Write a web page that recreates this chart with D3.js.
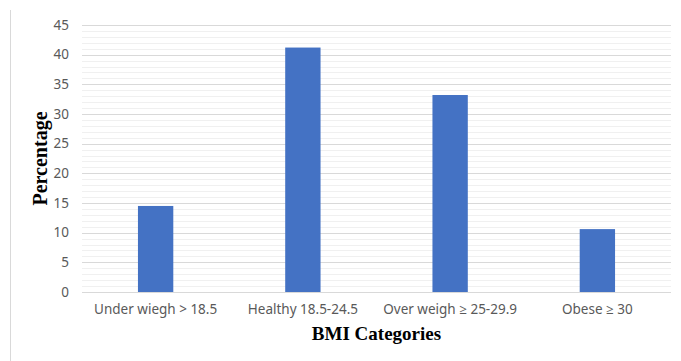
<!DOCTYPE html>
<html>
<head>
<meta charset="utf-8">
<script src="https://cdn.jsdelivr.net/npm/d3@7"></script>
<style>
  body { margin: 0; background: #fff; }
</style>
</head>
<body>
<svg id="canvas" width="681" height="361"></svg>
<script>
// Data
let categories = ['Under wiegh > 18.5', 'Healthy 18.5-24.5', 'Over weigh \u2265 25-29.9', 'Obese \u2265 30'];
let percentages = [14.5, 41.2, 33.2, 10.6];
let yTicks = [0, 5, 10, 15, 20, 25, 30, 35, 40, 45];

let canvas = d3.select('#canvas');

let margin = { left: 82, right: 10, top: 25, bottom: 69 };
let width = 681 - margin.left - margin.right;
let height = 361 - margin.top - margin.bottom;

let x = d3.scaleBand().domain(categories).range([0, width]).paddingInner(0.76).paddingOuter(0.38);
let y = d3.scaleLinear().domain([0, 45]).range([height, 0]);

// Chart frame edge on the left
canvas.append('line')
    .attr('x1', 10.5).attr('x2', 10.5)
    .attr('y1', 10).attr('y2', 361)
    .attr('stroke', '#d9d9d9').attr('stroke-width', 1);

let g = canvas.append('g').attr('transform', `translate(${margin.left},${margin.top})`);

// Minor gridlines
g.selectAll('.minor')
    .data(d3.range(0, 46).filter((v) => v % 5 !== 0))
    .enter()
    .append('line')
    .attr('x1', 0).attr('x2', width)
    .attr('y1', (d) => Math.round(y(d)) + 0.5)
    .attr('y2', (d) => Math.round(y(d)) + 0.5)
    .attr('stroke', '#f0f0f0');

// Major gridlines
g.selectAll('.major')
    .data(yTicks)
    .enter()
    .append('line')
    .attr('x1', 0).attr('x2', width)
    .attr('y1', (d) => Math.round(y(d)) + 0.5)
    .attr('y2', (d) => Math.round(y(d)) + 0.5)
    .attr('stroke', '#d9d9d9');

// Y tick labels
let yAxis = g.append('g')
    .call(d3.axisLeft(y).tickValues(yTicks).tickSize(0).tickPadding(13));
yAxis.select('.domain').remove();
yAxis.selectAll('text')
    .attr('fill', '#595959')
    .style('font-family', 'Noto Sans, Open Sans, sans-serif')
    .style('font-size', '13.5px');

// Bars
g.selectAll('rect')
    .data(percentages)
    .enter()
    .append('rect')
    .attr('x', (d, i) => x(categories[i]))
    .attr('y', (d) => y(d))
    .attr('width', x.bandwidth())
    .attr('height', (d) => y(0) - y(d))
    .attr('fill', '#4472c4');

// X tick labels
let xAxis = g.append('g')
    .attr('transform', `translate(0,${height})`)
    .call(d3.axisBottom(x).tickSize(0).tickPadding(12));
xAxis.select('.domain').remove();
xAxis.selectAll('text')
    .attr('fill', '#595959')
    .style('font-family', 'Noto Sans, Open Sans, sans-serif')
    .style('font-size', '13.5px');

// Axis titles
canvas.append('text')
    .attr('x', margin.left + width / 2)
    .attr('y', 340)
    .attr('text-anchor', 'middle')
    .style('font-family', 'Liberation Serif, Times New Roman, serif')
    .style('font-weight', 'bold')
    .style('font-size', '19px')
    .text('BMI Categories');

canvas.append('text')
    .attr('transform', `translate(47,${margin.top + height / 2}) rotate(-90)`)
    .attr('text-anchor', 'middle')
    .style('font-family', 'Liberation Serif, Times New Roman, serif')
    .style('font-weight', 'bold')
    .style('font-size', '20px')
    .text('Percentage');
</script>
</body>
</html>
